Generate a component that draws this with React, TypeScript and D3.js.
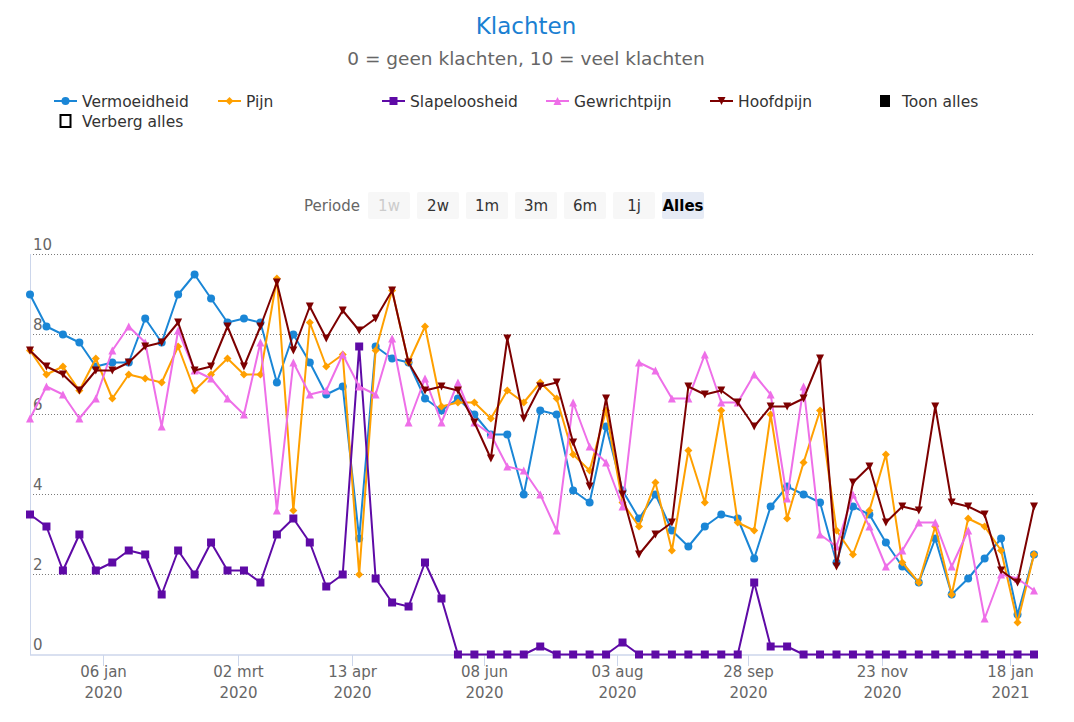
import React from 'react';
import * as d3 from 'd3';

// ---- data (one value per weekly measurement, ordinal x axis) ----
const vermoeidheid = [
  9.0, 8.2, 8.0, 7.8, 7.2, 7.3, 7.3, 8.4, 7.8, 9.0,
  9.5, 8.9, 8.3, 8.4, 8.3, 6.8, 8.0, 7.3, 6.5, 6.7,
  2.9, 7.7, 7.4, 7.3, 6.4, 6.1, 6.4, 6.0, 5.5, 5.5,
  4.0, 6.1, 6.0, 4.1, 3.8, 5.7, 4.1, 3.4, 4.0, 3.1,
  2.7, 3.2, 3.5, 3.4, 2.4, 3.7, 4.2, 4.0, 3.8, 2.3,
  3.7, 3.5, 2.8, 2.2, 1.8, 2.9, 1.5, 1.9, 2.4, 2.9,
  1.0, 2.5,
];
const pijn = [
  7.6, 7.0, 7.2, 6.6, 7.4, 6.4, 7.0, 6.9, 6.8, 7.7,
  6.6, 7.0, 7.4, 7.0, 7.0, 9.4, 3.6, 8.3, 7.2, 7.5,
  2.0, 7.6, 9.1, 7.3, 8.2, 6.2, 6.3, 6.3, 5.9, 6.6,
  6.3, 6.8, 6.4, 5.0, 4.6, 6.1, 3.8, 3.2, 4.3, 2.6,
  5.1, 3.8, 6.1, 3.3, 3.1, 6.0, 3.4, 4.8, 6.1, 3.1,
  2.5, 3.6, 5.0, 2.3, 1.8, 3.2, 1.5, 3.4, 3.2, 2.6,
  0.8, 2.5,
];
const slapeloosheid = [
  3.5, 3.2, 2.1, 3.0, 2.1, 2.3, 2.6, 2.5, 1.5, 2.6,
  2.0, 2.8, 2.1, 2.1, 1.8, 3.0, 3.4, 2.8, 1.7, 2.0,
  7.7, 1.9, 1.3, 1.2, 2.3, 1.4, 0, 0, 0, 0,
  0, 0.2, 0, 0, 0, 0, 0.3, 0, 0, 0,
  0, 0, 0, 0, 1.8, 0.2, 0.2, 0, 0, 0,
  0, 0, 0, 0, 0, 0, 0, 0, 0, 0,
  0, 0,
];
const gewrichtpijn = [
  5.9, 6.7, 6.5, 5.9, 6.4, 7.6, 8.2, 7.8, 5.7, 8.1,
  7.1, 6.9, 6.4, 6.0, 7.8, 3.6, 7.3, 6.5, 6.6, 7.5,
  6.7, 6.5, 7.9, 5.8, 6.9, 5.8, 6.8, 5.8, 5.5, 4.7,
  4.6, 4.0, 3.1, 6.3, 5.2, 4.8, 3.7, 7.3, 7.1, 6.4,
  6.4, 7.5, 6.3, 6.3, 7.0, 6.5, 3.9, 6.7, 3.0, 2.7,
  4.0, 3.2, 2.2, 2.6, 3.3, 3.3, 2.2, 3.1, 0.9, 2.0,
  1.9, 1.6,
];
const hoofdpijn = [
  7.6, 7.2, 7.0, 6.6, 7.1, 7.1, 7.3, 7.7, 7.8, 8.3,
  7.1, 7.2, 8.2, 7.2, 8.2, 9.3, 7.6, 8.7, 7.9, 8.6,
  8.1, 8.4, 9.1, 7.3, 6.6, 6.7, 6.6, 5.8, 4.9, 7.9,
  5.9, 6.7, 6.8, 5.3, 4.2, 6.4, 4.0, 2.5, 3.0, 3.3,
  6.7, 6.5, 6.6, 6.3, 5.7, 6.2, 6.2, 6.4, 7.4, 2.2,
  4.3, 4.7, 3.3, 3.7, 3.6, 6.2, 3.8, 3.7, 3.5, 2.1,
  1.8, 3.7,
];

const seriesNames = ['Vermoeidheid', 'Pijn', 'Slapeloosheid', 'Gewrichtpijn', 'Hoofdpijn'];
const seriesColors = ['#1a86d6', '#ffa000', '#5e0aa6', '#ee6fe8', '#7d0000'];
const seriesSymbols = ['circle', 'diamond', 'square', 'triangle', 'triangle-down'];
const seriesData = [vermoeidheid, pijn, slapeloosheid, gewrichtpijn, hoofdpijn];

// x-axis ticks: label lines and their (ordinal) position in point-index units
const tickLabels = [
  ['06 jan', '2020'], ['02 mrt', '2020'], ['13 apr', '2020'], ['08 jun', '2020'],
  ['03 aug', '2020'], ['28 sep', '2020'], ['23 nov', '2020'], ['18 jan', '2021'],
];
const tickAt = [4.45, 12.62, 19.58, 27.58, 35.68, 43.64, 51.78, 59.54];
const yTicks = [0, 2, 4, 6, 8, 10];
const periodButtons = ['1w', '2w', '1m', '3m', '6m', '1j', 'Alles'];

const W = 1074;
const H = 722;
const FONT = '"DejaVu Sans", Verdana, sans-serif';

const x = d3.scaleLinear().domain([0, vermoeidheid.length - 1]).range([30, 1034]);
const y = d3.scaleLinear().domain([0, 10]).range([654.5, 254.5]);

function symbolPath(kind: string, cx: number, cy: number, r: number): string {
  switch (kind) {
    case 'circle':
      return `M${cx - r},${cy}A${r},${r} 0 1,0 ${cx + r},${cy}A${r},${r} 0 1,0 ${cx - r},${cy}Z`;
    case 'square':
      return `M${cx - r},${cy - r}H${cx + r}V${cy + r}H${cx - r}Z`;
    case 'diamond':
      return `M${cx},${cy - r}L${cx + r},${cy}L${cx},${cy + r}L${cx - r},${cy}Z`;
    case 'triangle':
      return `M${cx},${cy - r}L${cx + r},${cy + r}L${cx - r},${cy + r}Z`;
    case 'triangle-down':
      return `M${cx - r},${cy - r}L${cx + r},${cy - r}L${cx},${cy + r}Z`;
    default:
      return '';
  }
}

export default function App() {
  const line = d3
    .line<number>()
    .x((_, i) => x(i))
    .y((d) => y(d));

  const legendX0 = 54;
  const legendStep = 164;
  const titleX = 526;

  return (
    <div style={{ position: 'absolute', left: 0, top: 0 }}>
      <svg width={W} height={H} style={{ display: 'block', fontFamily: FONT }}>
        <rect width={W} height={H} fill="#fff" />
        {/* Title */}
        <text x={titleX} y={34} textAnchor="middle" fontSize={23} fill="#1a80d2">
          Klachten
        </text>
        <text x={titleX} y={65} textAnchor="middle" fontSize={18.5} fill="#666">
          0 = geen klachten, 10 = veel klachten
        </text>

        {/* Legend */}
        {seriesNames.map((name, i) => {
          const lx = legendX0 + i * legendStep;
          const ly = 101;
          return (
            <g key={name}>
              <line x1={lx} x2={lx + 23} y1={ly} y2={ly} stroke={seriesColors[i]} strokeWidth={2} />
              <path d={symbolPath(seriesSymbols[i], lx + 11.5, ly, 4)} fill={seriesColors[i]} />
              <text x={lx + 28} y={ly + 5.5} fontSize={15.5} fill="#333">
                {name}
              </text>
            </g>
          );
        })}
        <g>
          <rect x={legendX0 + 5 * legendStep + 6} y={95} width={10} height={12} fill="#000" />
          <text x={legendX0 + 5 * legendStep + 28} y={106.5} fontSize={15.5} fill="#333">
            Toon alles
          </text>
        </g>
        <g>
          <rect x={legendX0 + 6.5} y={115} width={10} height={12} fill="none" stroke="#000" strokeWidth={2} />
          <text x={legendX0 + 28} y={126.5} fontSize={15.5} fill="#333">
            Verberg alles
          </text>
        </g>

        {/* Range selector */}
        <text x={304} y={211} fontSize={15} fill="#666">
          Periode
        </text>
        {periodButtons.map((b, i) => {
          const bx = 368 + i * 49;
          const selected = b === 'Alles';
          const disabled = b === '1w';
          return (
            <g key={b}>
              <rect x={bx} y={192} width={42} height={27} rx={2} fill={selected ? '#e6ebf5' : '#f7f7f7'} />
              <text
                x={bx + 21}
                y={210.5}
                textAnchor="middle"
                fontSize={15}
                fontWeight={selected ? 'bold' : 'normal'}
                fill={disabled ? '#cccccc' : selected ? '#000' : '#333'}
              >
                {b}
              </text>
            </g>
          );
        })}

        {/* Grid */}
        {yTicks.map((t) =>
          t === 0 ? null : (
            <line
              key={'g' + t}
              x1={30}
              x2={1034}
              y1={y(t)}
              y2={y(t)}
              stroke="#7a7a7a"
              strokeWidth={1}
              strokeDasharray="1,2"
            />
          )
        )}
        {yTicks.map((t) => (
          <text key={'yl' + t} x={33} y={y(t) - 4.5} fontSize={15} fill="#666">
            {t}
          </text>
        ))}
        {/* Axes */}
        <line x1={30.5} x2={30.5} y1={254} y2={655} stroke="#ccd6eb" strokeWidth={1} />
        <line x1={30} x2={1035} y1={655} y2={655} stroke="#ccd6eb" strokeWidth={1.5} />
        {tickAt.map((t, i) => {
          const tx = Math.round(x(t)) + 0.5;
          return (
            <g key={'xt' + i}>
              <line x1={tx} x2={tx} y1={655} y2={666} stroke="#ccd6eb" strokeWidth={1} />
              <text x={tx} y={677} textAnchor="middle" fontSize={15} fill="#666">
                {tickLabels[i][0]}
              </text>
              <text x={tx} y={698} textAnchor="middle" fontSize={15} fill="#666">
                {tickLabels[i][1]}
              </text>
            </g>
          );
        })}

        {/* Series */}
        {seriesData.map((data, si) => (
          <g key={'s' + si}>
            <path d={line(data) || ''} fill="none" stroke={seriesColors[si]} strokeWidth={2} strokeLinejoin="round" />
            {data.map((v, i) => (
              <path key={i} d={symbolPath(seriesSymbols[si], x(i), y(v), 4)} fill={seriesColors[si]} />
            ))}
          </g>
        ))}
      </svg>
    </div>
  );
}
